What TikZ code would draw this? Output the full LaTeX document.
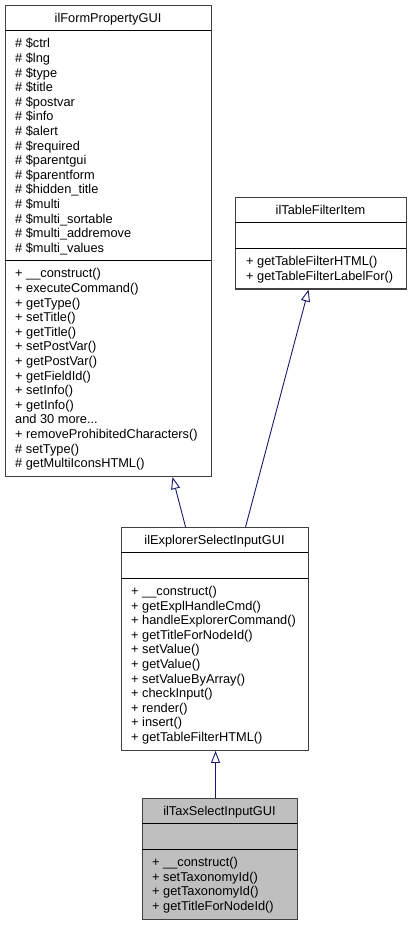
\documentclass[tikz,border=0pt]{standalone}
\usepackage{fontspec}
\setmainfont{Liberation Sans}
\usetikzlibrary{arrows.meta}
\definecolor{edgeblue}{RGB}{25,25,112}
\definecolor{boxgrey}{RGB}{191,191,191}
\definecolor{bordergrey}{RGB}{64,64,64}
\begin{document}
\begin{tikzpicture}[x=1pt,y=-1pt,
  font=\fontsize{12.8}{14.6}\selectfont,
  umlbox/.style={draw=bordergrey,line width=1.1pt,rectangle,inner sep=0pt,anchor=north west},
  sepline/.style={draw=black,line width=0.9pt},
  txt/.style={anchor=base west,inner sep=0pt},
  ttl/.style={anchor=base,inner sep=0pt},
  inh/.style={draw=edgeblue,line width=0.9pt,-{Triangle[length=12pt,width=9pt,fill=white]}}]
\useasboundingbox (0,0) rectangle (413,925);

% ---- ilFormPropertyGUI
\node[umlbox,minimum width=206pt,minimum height=471pt] (A) at (5,5) {};
\draw[sepline] (5,30.6) -- (211,30.6);
\draw[sepline] (5,260.6) -- (211,260.6);
\node[ttl] (At) at (108,22.4) {ilFormPropertyGUI};
\foreach \t [count=\i from 0] in {\# \$ctrl,\# \$lng,\# \$type,\# \$title,\# \$postvar,\# \$info,\# \$alert,\# \$required,\# \$parentgui,\# \$parentform,\# \$hidden\_title,\# \$multi,\# \$multi\_sortable,\# \$multi\_addremove,\# \$multi\_values}
  \node[txt] (Aa\i) at (15,47.9+\i*14.6) {\t};
\foreach \t [count=\i from 0] in {+ \_\_construct(),+ executeCommand(),+ getType(),+ setTitle(),+ getTitle(),+ setPostVar(),+ getPostVar(),+ getFieldId(),+ setInfo(),+ getInfo(),and 30 more.{}.{}.,+ removeProhibitedCharacters(),\# setType(),\# getMultiIconsHTML()}
  \node[txt] (Am\i) at (15,277.9+\i*14.6) {\t};

% ---- ilTableFilterItem
\node[umlbox,minimum width=171pt,minimum height=91.4pt] (B) at (235,197) {};
\draw[sepline] (235,222.6) -- (406,222.6);
\draw[sepline] (235,248.2) -- (406,248.2);
\node[ttl] (Bt) at (320.5,214.4) {ilTableFilterItem};
\foreach \t [count=\i from 0] in {+ getTableFilterHTML(),+ getTableFilterLabelFor()}
  \node[txt] (Bm\i) at (246,265.5+\i*14.6) {\t};

% ---- ilExplorerSelectInputGUI
\node[umlbox,minimum width=187pt,minimum height=222.8pt] (C) at (121,527) {};
\draw[sepline] (121,552.6) -- (308,552.6);
\draw[sepline] (121,578.2) -- (308,578.2);
\node[ttl] (Ct) at (214.5,544.4) {ilExplorerSelectInputGUI};
\foreach \t [count=\i from 0] in {+ \_\_construct(),+ getExplHandleCmd(),+ handleExplorerCommand(),+ getTitleForNodeId(),+ setValue(),+ getValue(),+ setValueByArray(),+ checkInput(),+ render(),+ insert(),+ getTableFilterHTML()}
  \node[txt] (Cm\i) at (131,595.5+\i*14.6) {\t};

% ---- ilTaxSelectInputGUI
\node[umlbox,fill=boxgrey,minimum width=155pt,minimum height=120.6pt] (D) at (142,798) {};
\draw[sepline] (142,823.6) -- (297,823.6);
\draw[sepline] (142,849.2) -- (297,849.2);
\node[ttl] (Dt) at (219.5,815.4) {ilTaxSelectInputGUI};
\foreach \t [count=\i from 0] in {+ \_\_construct(),+ setTaxonomyId(),+ getTaxonomyId(),+ getTitleForNodeId()}
  \node[txt] (Dm\i) at (152,866.5+\i*14.6) {\t};

% ---- inheritance
\draw[inh] ([xshift=-29.5pt]C.north) -- ([xshift=64pt]A.south);
\draw[inh] ([xshift=30.5pt]C.north) -- ([xshift=-12.5pt]B.south);
\draw[inh] ([xshift=-4.5pt]D.north) -- ([xshift=0.5pt]C.south);
\end{tikzpicture}
\end{document}
